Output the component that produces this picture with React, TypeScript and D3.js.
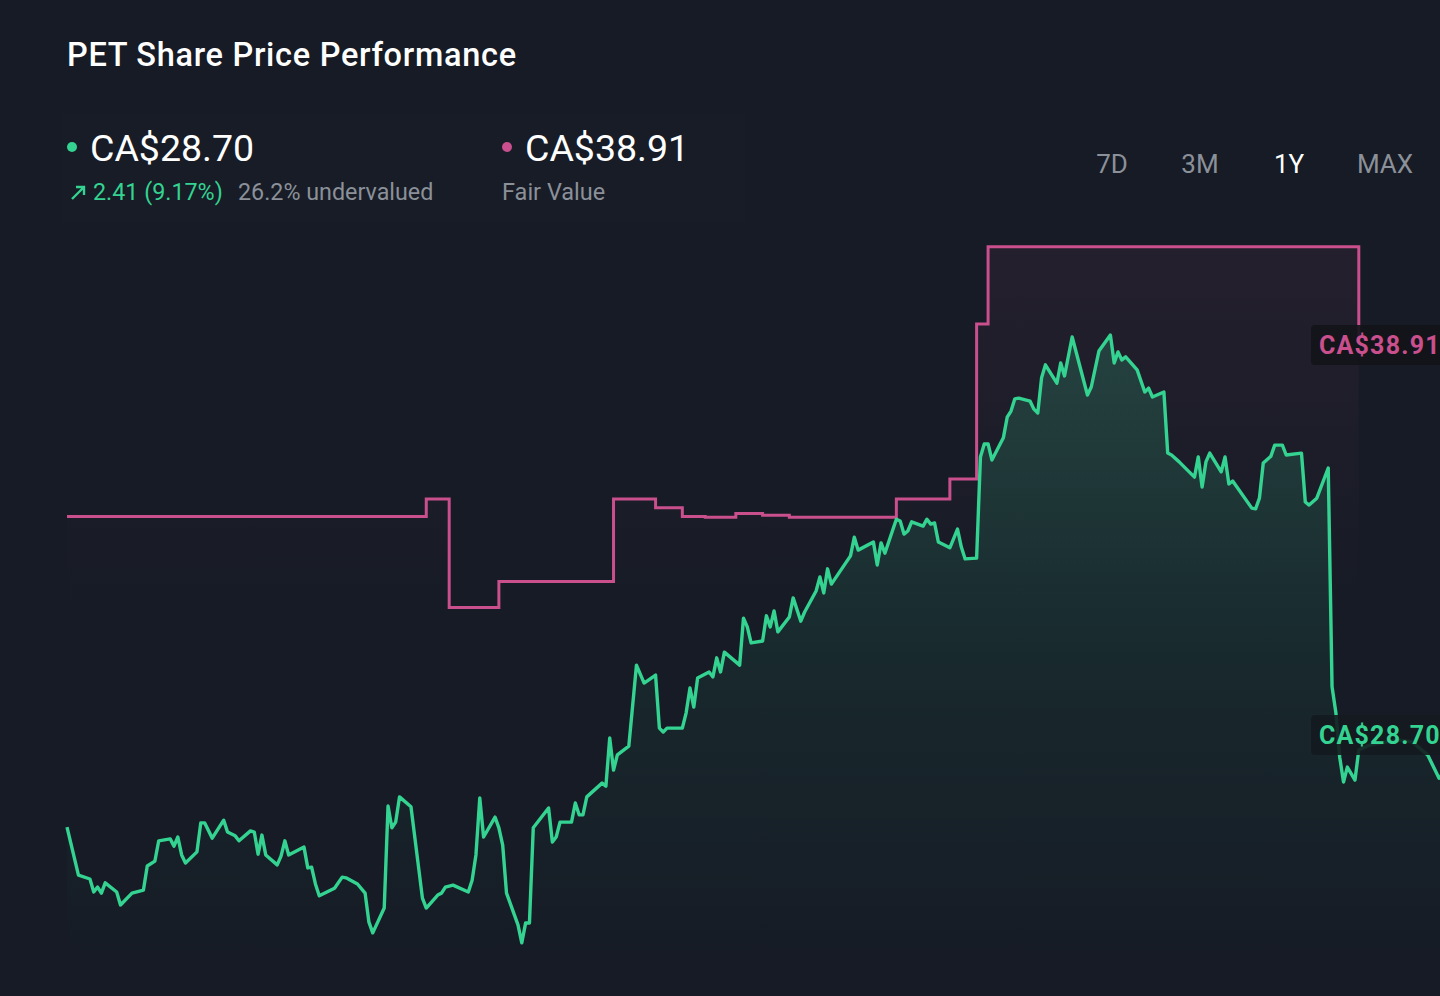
import React from "react";
import * as d3 from "d3";

// ---------- DATA ----------
const startDate = new Date(2023, 6, 24);
const totalDays = 365;

const priceDays = [
  0, 3, 6, 7, 8, 9, 10, 13, 14, 17, 20, 21, 23, 24, 27, 28, 29, 30, 31, 34,
  35, 36, 38, 41, 42, 44, 45, 48, 49, 50, 51, 52, 55, 56, 57, 58, 62, 63, 64, 65,
  66, 70, 72, 73, 76, 78, 79, 80, 83, 84, 85, 86, 87, 90, 93, 94, 97, 98, 99, 101,
  105, 106, 107, 108, 109, 112, 113, 114, 115, 118, 119, 120, 121, 122, 126, 127, 128, 129, 132, 133,
  134, 135, 136, 140, 141, 142, 143, 144, 147, 149, 151, 154, 155, 156, 157, 161, 162, 163, 164, 165,
  168, 169, 170, 171, 172, 176, 177, 178, 179, 182, 183, 184, 185, 186, 189, 190, 192, 193, 196, 197,
  198, 199, 200, 205, 206, 207, 211, 212, 213, 214, 217, 218, 219, 220, 221, 224, 225, 226, 227, 228,
  231, 233, 234, 235, 238, 239, 240, 241, 242, 245, 246, 247, 248, 249, 252, 253, 254, 255, 256, 259,
  260, 261, 263, 267, 268, 270, 273, 274, 275, 276, 277, 280, 282, 283, 284, 287, 288, 289, 291, 295,
  296, 297, 298, 299, 302, 303, 304, 305, 310, 311, 312, 313, 315, 316, 318, 319, 323, 324, 325, 327,
  330, 331, 332, 333, 334, 335, 337, 338, 341, 348, 352, 356, 359, 362, 365,
];

const prices = [
  26.29, 25.03, 24.93, 24.59, 24.72, 24.56, 24.83, 24.59, 24.25, 24.56, 24.64, 25.27, 25.4, 25.93, 25.98, 25.79, 26.03, 25.56, 25.35, 25.64,
  26.4, 26.4, 26.0, 26.47, 26.16, 26.06, 25.93, 26.19, 26.16, 25.58, 26.08, 25.56, 25.3, 25.53, 25.93, 25.56, 25.77, 25.22, 25.24, 24.8,
  24.49, 24.69, 24.98, 24.96, 24.8, 24.56, 23.8, 23.52, 24.17, 26.84, 26.27, 26.42, 27.08, 26.82, 24.43, 24.17, 24.51, 24.56, 24.72, 24.77,
  24.59, 24.9, 25.56, 27.05, 26.03, 26.55, 26.27, 25.82, 24.56, 23.73, 23.26, 23.78, 23.78, 26.27, 26.79, 25.9, 26.03, 26.42, 26.42, 26.92,
  26.61, 26.61, 27.08, 27.44, 27.36, 28.62, 27.78, 28.18, 28.41, 30.53, 30.06, 30.27, 28.88, 28.78, 28.88, 28.88, 29.28, 29.93, 29.43, 30.19,
  30.35, 30.22, 30.72, 30.35, 30.87, 30.53, 31.76, 31.53, 31.11, 31.16, 31.82, 31.53, 31.95, 31.4, 31.79, 32.29, 31.68, 31.92, 32.47, 32.84,
  32.42, 33.05, 32.65, 33.39, 33.88, 33.54, 33.75, 33.15, 33.73, 33.46, 34.35, 34.3, 33.96, 34.04, 34.28, 34.17, 34.35, 34.22, 34.25, 33.75,
  33.6, 34.09, 33.62, 33.31, 33.33, 35.98, 36.32, 36.32, 35.9, 36.48, 37.02, 37.18, 37.5, 37.52, 37.44, 37.23, 37.13, 38.05, 38.39, 37.91,
  38.44, 38.1, 39.12, 37.6, 37.81, 38.75, 39.17, 38.44, 38.73, 38.52, 38.6, 38.26, 37.68, 37.78, 37.55, 37.68, 36.08, 36.03, 35.85, 35.45,
  35.98, 35.19, 35.85, 36.08, 35.59, 35.98, 35.27, 35.35, 34.64, 34.62, 34.9, 35.82, 36.0, 36.29, 36.29, 36.03, 36.08, 34.8, 34.72, 34.9,
  35.69, 29.96, 29.28, 28.12, 27.47, 27.86, 27.52, 28.31, 28.44, 28.57, 28.52, 28.18, 27.57, 27.91, 28.7,
];

const fairValueDays = [0, 94, 100, 113, 143, 154, 161, 167, 175, 182, 189, 217, 231, 238, 241, 338];
const fairValues = [34.42, 34.88, 32.04, 32.72, 34.88, 34.65, 34.42, 34.4, 34.5, 34.45, 34.4, 34.88, 35.4, 39.46, 41.48, 38.91];

const lastPrice = 28.7;
const fairValue = 38.91;
const priceChange = 2.41;
const priceChangePct = 9.17;
const undervaluedPct = 26.2;
const periodLabels = ["7D", "3M", "1Y", "MAX"];
const activePeriod = "1Y";

// ---------- STYLE ----------
const W = 1440;
const H = 996;
const BG = "#161b25";
const GREEN = "#34d391";
const PINK = "#c94f8d";
const GREY = "#8b9099";
const FONT = "Roboto, 'Noto Sans', sans-serif";

type Pt = { date: Date; value: number };

export default function App() {
  const pricePts: Pt[] = priceDays.map((d, i) => ({ date: d3.timeDay.offset(startDate, d), value: prices[i] }));
  const fairPts: Pt[] = fairValueDays.map((d, i) => ({ date: d3.timeDay.offset(startDate, d), value: fairValues[i] }));
  // the step-after curve needs the final value repeated at the last change date so the drop is drawn and stops there
  const lastFair = fairPts[fairPts.length - 1];
  const prevFair = fairPts[fairPts.length - 2];
  const fairDrawPts: Pt[] = [
    ...fairPts.slice(0, -1),
    { date: lastFair.date, value: prevFair.value },
    lastFair,
  ];

  const x = d3
    .scaleTime()
    .domain([startDate, d3.timeDay.offset(startDate, totalDays)])
    .range([67, 1462]);
  const y = d3.scaleLinear().domain([lastPrice, fairValue]).range([735, 345]);

  const priceLine = d3
    .line<Pt>()
    .x((p) => x(p.date))
    .y((p) => y(p.value))
    .curve(d3.curveLinear);
  const priceArea = d3
    .area<Pt>()
    .x((p) => x(p.date))
    .y0(H)
    .y1((p) => y(p.value))
    .curve(d3.curveLinear);
  const fairLine = d3
    .line<Pt>()
    .x((p) => x(p.date))
    .y((p) => y(p.value))
    .curve(d3.curveStepAfter);
  const fairArea = d3
    .area<Pt>()
    .x((p) => x(p.date))
    .y0(H)
    .y1((p) => y(p.value))
    .curve(d3.curveStepAfter);

  const periodX = [1112, 1200, 1289, 1385];

  return (
    <div style={{ position: "fixed", left: 0, top: 0, width: W, height: H, background: BG, overflow: "hidden" }}>
      <svg width={W} height={H} viewBox={`0 0 ${W} ${H}`} style={{ display: "block", fontFamily: FONT }}>
        <defs>
          <linearGradient id="gGreen" gradientUnits="userSpaceOnUse" x1="0" y1="330" x2="0" y2="960">
            <stop offset="0" stopColor={GREEN} stopOpacity={0.2} />
            <stop offset="0.55" stopColor={GREEN} stopOpacity={0.07} />
            <stop offset="1" stopColor={GREEN} stopOpacity={0.0} />
          </linearGradient>
          <linearGradient id="gPink" gradientUnits="userSpaceOnUse" x1="0" y1="247" x2="0" y2="620">
            <stop offset="0" stopColor={PINK} stopOpacity={0.08} />
            <stop offset="1" stopColor={PINK} stopOpacity={0.0} />
          </linearGradient>
        </defs>
        <rect x={0} y={0} width={W} height={H} fill={BG} />

        {/* header panel */}
        <rect x={62} y={113} width={683} height={110} fill="#ffffff" opacity={0.008} />

        <text x={67} y={66} fill="#ffffff" fontSize={32.5} fontWeight={500} letterSpacing={0.7}>
          PET Share Price Performance
        </text>

        {/* price block */}
        <circle cx={72} cy={147} r={5} fill={GREEN} />
        <text x={90} y={161} fill="#ffffff" fontSize={37.5} fontWeight={400}>
          {`CA$${lastPrice.toFixed(2)}`}
        </text>
        <path d="M72,199 L84,187 M76,187 L84,187 L84,195" stroke={GREEN} strokeWidth={2.4} fill="none" />
        <text x={93} y={200} fill={GREEN} fontSize={23.3}>
          {`${priceChange.toFixed(2)} (${priceChangePct.toFixed(2)}%)`}
        </text>
        <text x={238} y={200} fill={GREY} fontSize={23.3}>
          {`${undervaluedPct.toFixed(1)}% undervalued`}
        </text>

        <circle cx={507} cy={147} r={5} fill={PINK} />
        <text x={525} y={161} fill="#ffffff" fontSize={37.5} fontWeight={400}>
          {`CA$${fairValue.toFixed(2)}`}
        </text>
        <text x={502} y={200} fill={GREY} fontSize={23.5}>
          Fair Value
        </text>

        {periodLabels.map((p, i) => (
          <text
            key={p}
            x={periodX[i]}
            y={173}
            textAnchor="middle"
            fill={p === activePeriod ? "#ffffff" : GREY}
            fontSize={26}
          >
            {p}
          </text>
        ))}

        {/* areas */}
        <path d={fairArea(fairDrawPts) ?? ""} fill="url(#gPink)" />
        <path d={priceArea(pricePts) ?? ""} fill="url(#gGreen)" />

        {/* lines */}
        <path d={fairLine(fairDrawPts) ?? ""} fill="none" stroke={PINK} strokeWidth={3} strokeLinejoin="miter" />
        <path d={priceLine(pricePts) ?? ""} fill="none" stroke={GREEN} strokeWidth={3.4} strokeLinejoin="round" />

        {/* end labels */}
        <g>
          <rect x={1311} y={y(fairValue) - 20} width={150} height={40} rx={4} fill="#121419" opacity={0.9} />
          <text x={1319} y={y(fairValue) + 9} fill={PINK} fontSize={25} fontWeight={700} letterSpacing={1.2}>
            {`CA$${fairValue.toFixed(2)}`}
          </text>
        </g>
        <g>
          <rect x={1311} y={y(lastPrice) - 20} width={150} height={40} rx={4} fill="#141b1f" opacity={0.9} />
          <text x={1319} y={y(lastPrice) + 9} fill={GREEN} fontSize={25} fontWeight={700} letterSpacing={1.2}>
            {`CA$${lastPrice.toFixed(2)}`}
          </text>
        </g>
      </svg>
    </div>
  );
}
